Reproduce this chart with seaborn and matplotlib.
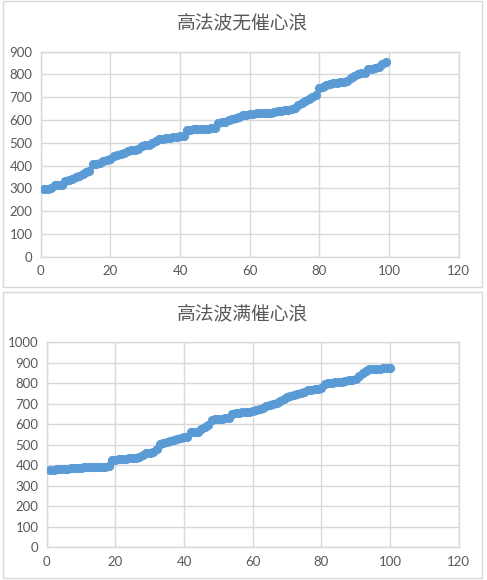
import pandas as pd
import matplotlib.pyplot as plt
import matplotlib.patches as patches
import numpy as np
import seaborn as sns

# Data
title_top = "高法波无催心浪"
title_bottom = "高法波满催心浪"

wave_none = [298, 298, 300, 313, 315, 316, 332, 338, 343, 348,
             356, 365, 372, 375, 405, 407, 410, 420, 426, 428,
             443, 448, 450, 455, 465, 468, 470, 475, 485, 490,
             492, 497, 510, 515, 518, 520, 523, 525, 525, 528,
             532, 555, 558, 560, 560, 560, 560, 561, 563, 566,
             585, 590, 593, 600, 605, 607, 615, 620, 623, 625,
             628, 630, 630, 630, 632, 633, 636, 638, 640, 642,
             645, 648, 655, 665, 675, 685, 693, 700, 712, 740,
             745, 755, 760, 762, 763, 765, 768, 772, 785, 795,
             800, 805, 808, 822, 825, 828, 835, 845, 855]

wave_full = [375, 377, 380, 382, 383, 383, 385, 386, 387, 388,
             390, 391, 392, 392, 393, 393, 394, 396, 425, 428,
             430, 430, 432, 435, 436, 438, 440, 450, 458, 462,
             467, 478, 505, 508, 512, 520, 525, 528, 535, 538,
             540, 560, 562, 563, 575, 588, 597, 620, 624, 626,
             628, 630, 632, 652, 655, 657, 658, 660, 662, 667,
             670, 675, 680, 688, 692, 698, 705, 715, 722, 732,
             740, 745, 748, 752, 758, 765, 768, 770, 772, 778,
             795, 800, 802, 804, 806, 808, 812, 815, 818, 822,
             835, 848, 860, 870, 872, 872, 872, 873, 874, 876]

x_ticks = [0, 20, 40, 60, 80, 100, 120]
y_ticks_top = list(range(0, 1000, 100))
y_ticks_bottom = list(range(0, 1100, 100))

df_top = pd.DataFrame({"x": np.arange(1, len(wave_none) + 1), "y": wave_none})
df_bottom = pd.DataFrame({"x": np.arange(1, len(wave_full) + 1), "y": wave_full})

sns.set_theme(style="white")
plt.rcParams['font.family'] = ['Lato', 'Noto Sans CJK SC', 'DejaVu Sans']

W, H = 487, 580
fig = plt.figure(figsize=(W / 100, H / 100), dpi=100)
fig.patch.set_facecolor("white")

grid_col = "#D9D9D9"
text_col = "#595959"
dot_col = "#5B9BD5"

# chart frames, like the Excel chart borders
for (y0, y1) in [(1, 287), (292, 578)]:
    fig.add_artist(patches.Rectangle((3 / W, 1 - y1 / H), 479 / W, (y1 - y0) / H,
                                     transform=fig.transFigure, fill=False,
                                     edgecolor=grid_col, linewidth=1))

panels = [
    (df_top, title_top, y_ticks_top, (40.7, 51.7, 458.7, 256.7), 22),
    (df_bottom, title_bottom, y_ticks_bottom, (46.7, 342.3, 458.7, 547.3), 313),
]

for df, title, yt, (l, t, r, b), ty in panels:
    ax = fig.add_axes([l / W, 1 - b / H, (r - l) / W, (b - t) / H])
    sns.scatterplot(data=df, x="x", y="y", color=dot_col, s=44,
                    edgecolor=dot_col, linewidth=0, ax=ax, zorder=3)
    ax.set_xlim(0, 120)
    ax.set_ylim(yt[0], yt[-1])
    ax.set_xticks(x_ticks)
    ax.set_yticks(yt)
    ax.set_xlabel("")
    ax.set_ylabel("")
    ax.grid(True, color=grid_col, linewidth=1)
    ax.set_axisbelow(True)
    for sp in ax.spines.values():
        sp.set_color(grid_col)
        sp.set_linewidth(1)
    ax.tick_params(axis='both', length=0, labelsize=9.5, labelcolor=text_col, pad=6)
    fig.text(242 / W, 1 - ty / H, title, ha="center", va="center",
             fontsize=13.5, color=text_col)

plt.savefig("out.png", dpi=100)
